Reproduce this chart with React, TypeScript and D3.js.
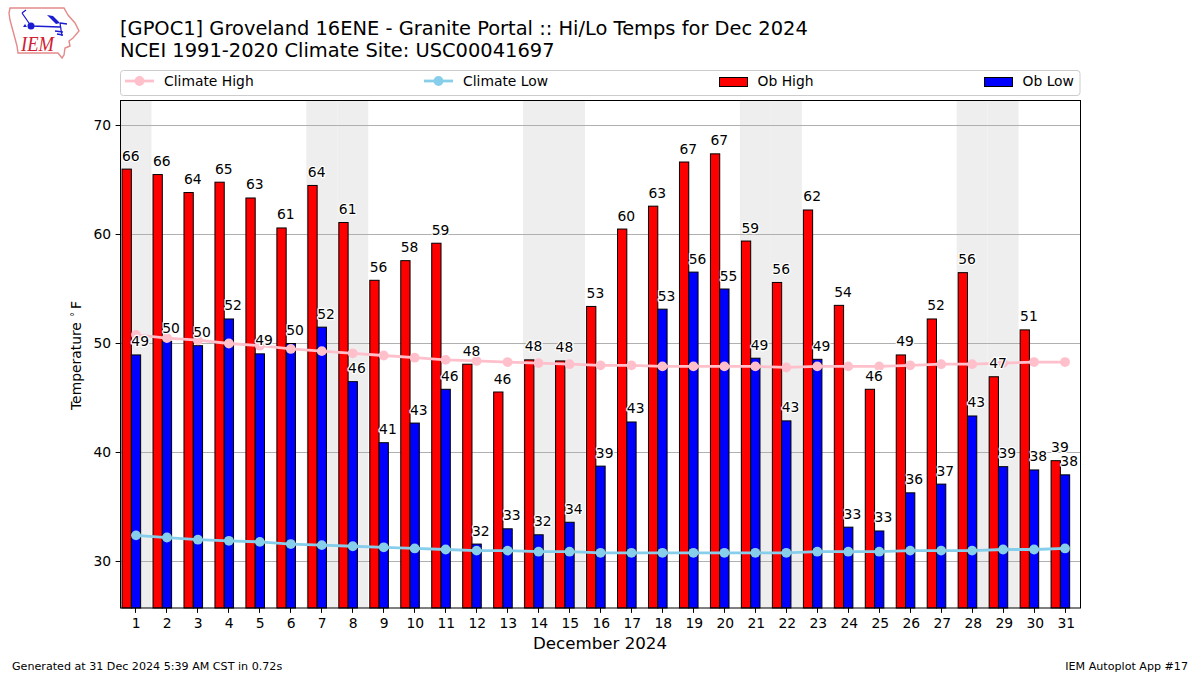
import React, { useRef, useEffect } from 'react';
import * as d3 from 'd3';

const days = d3.range(1, 32);
const weekends = [1, 7, 8, 14, 15, 21, 22, 28, 29];
const obHigh = [66.0, 65.5, 63.85, 64.8, 63.35, 60.6, 64.5, 61.1, 55.8, 57.6, 59.2, 48.1, 45.55, 48.5, 48.4, 53.4, 60.5, 62.6, 66.65, 67.4, 59.4, 55.6, 62.25, 53.5, 45.8, 48.95, 52.25, 56.5, 46.95, 51.25, 39.25];
const obLow = [48.95, 50.2, 49.8, 52.25, 49.05, 50.0, 51.5, 46.5, 40.9, 42.7, 45.8, 31.6, 33.0, 32.45, 33.6, 38.75, 42.8, 53.15, 56.55, 55.0, 48.65, 42.9, 48.55, 33.15, 32.8, 36.3, 37.1, 43.35, 38.7, 38.4, 37.95];
const highLabels = [66, 66, 64, 65, 63, 61, 64, 61, 56, 58, 59, 48, 46, 48, 48, 53, 60, 63, 67, 67, 59, 56, 62, 54, 46, 49, 52, 56, 47, 51, 39];
const lowLabels = [49, 50, 50, 52, 49, 50, 52, 46, 41, 43, 46, 32, 33, 32, 34, 39, 43, 53, 56, 55, 49, 43, 49, 33, 33, 36, 37, 43, 39, 38, 38];
const climateHigh = [50.8, 50.5, 50.3, 50.0, 49.8, 49.5, 49.3, 49.1, 48.9, 48.7, 48.5, 48.4, 48.3, 48.2, 48.1, 48.0, 48.0, 47.9, 47.9, 47.9, 47.9, 47.8, 47.9, 47.9, 47.9, 48.0, 48.1, 48.1, 48.2, 48.3, 48.3];
const climateLow = [32.4, 32.2, 32.0, 31.9, 31.8, 31.6, 31.5, 31.4, 31.3, 31.2, 31.1, 31.0, 31.0, 30.9, 30.9, 30.8, 30.8, 30.8, 30.8, 30.8, 30.8, 30.8, 30.9, 30.9, 30.9, 31.0, 31.0, 31.0, 31.1, 31.1, 31.2];
const yTicks = [30, 40, 50, 60, 70];

const FONT = '"DejaVu Sans", sans-serif';
const width = 1200;
const height = 675;
const margin = { top: 100.5, right: 119.5, bottom: 67, left: 120.5 };

function App() {
  const svgRef = useRef<SVGSVGElement>(null);

  useEffect(() => {
    const svg = d3.select(svgRef.current);
    svg.selectAll('*').remove();
    svg.attr('font-family', FONT);

    const x = d3.scaleLinear().domain([0.5, 31.5]).range([margin.left, width - margin.right]);
    const y = d3.scaleLinear().domain([25.734, 72.294]).range([height - margin.bottom, margin.top]);
    const barW = x(0.8) - x(0.5);

    // Logo
    const logo = svg.append('g');
    logo.append('path')
      .attr('d', 'M10,8 L64,8 L68,15 L75,23 L79,31 L73,38 L69,41 L70,46 L65,48 L64,55 L62,58 L58,53 L18,53 L17,46 L13,31 L10,20 L9,13 Z')
      .attr('fill', 'none').attr('stroke', '#e58a8a').attr('stroke-width', 1.4);
    logo.append('path')
      .attr('d', 'M31,26 L60,27 M60,23 L67,24 M60,23 L62,36 M22,13 L31,26 M22,13 L26,10 M55,31 L63,32 M57,34 L63,35')
      .attr('fill', 'none').attr('stroke', '#1c1cd0').attr('stroke-width', 1.3);
    logo.append('path').attr('d', 'M47,15 L53,16 L60,23 L56,24 Z').attr('fill', '#1c1cd0');
    logo.append('path').attr('d', 'M25,24 L27,27 L23,27 Z').attr('fill', '#1c1cd0');
    logo.append('circle').attr('cx', 31).attr('cy', 26).attr('r', 3.5).attr('fill', '#1c1cd0');
    logo.append('text').attr('x', 21).attr('y', 51).attr('font-family', '"Liberation Serif", serif')
      .attr('font-style', 'italic').attr('font-size', 20).attr('fill', '#d02030')
      .attr('textLength', 33).attr('lengthAdjust', 'spacingAndGlyphs').text('IEM');

    // Titles
    svg.append('text').attr('x', 120).attr('y', 35).attr('font-size', 19.44).attr('fill', '#000')
      .text('[GPOC1] Groveland 16ENE - Granite Portal :: Hi/Lo Temps for Dec 2024');
    svg.append('text').attr('x', 120).attr('y', 57).attr('font-size', 19.44).attr('fill', '#000')
      .text('NCEI 1991-2020 Climate Site: USC00041697');

    // Weekend shading
    svg.append('g').selectAll('rect').data(weekends).enter().append('rect')
      .attr('x', d => x(d - 0.5))
      .attr('width', x(1) - x(0))
      .attr('y', margin.top)
      .attr('height', height - margin.bottom - margin.top)
      .attr('fill', '#eeeeee');

    // Grid
    svg.append('g').selectAll('line').data(yTicks).enter().append('line')
      .attr('x1', margin.left).attr('x2', width - margin.right)
      .attr('y1', d => y(d)).attr('y2', d => y(d))
      .attr('stroke', '#b0b0b0').attr('stroke-width', 1.1);

    // Bars
    svg.append('g').selectAll('rect').data(days).enter().append('rect')
      .attr('x', d => x(d - 0.45))
      .attr('width', barW)
      .attr('y', (d, i) => y(obHigh[i]))
      .attr('height', (d, i) => y.range()[0] - y(obHigh[i]))
      .attr('fill', '#ff0000').attr('stroke', '#000').attr('stroke-width', 1);
    svg.append('g').selectAll('rect').data(days).enter().append('rect')
      .attr('x', d => x(d - 0.15))
      .attr('width', barW)
      .attr('y', (d, i) => y(obLow[i]))
      .attr('height', (d, i) => y.range()[0] - y(obLow[i]))
      .attr('fill', '#0000ff').attr('stroke', '#000').attr('stroke-width', 1);

    // Climate lines
    const drawClimate = (vals: number[], color: string) => {
      const line = d3.line<number>().x((d, i) => x(days[i])).y(d => y(d));
      svg.append('path').attr('d', line(vals)).attr('fill', 'none').attr('stroke', color).attr('stroke-width', 2.78);
      svg.append('g').selectAll('circle').data(vals).enter().append('circle')
        .attr('cx', (d, i) => x(days[i])).attr('cy', d => y(d)).attr('r', 4.9).attr('fill', color);
    };
    drawClimate(climateHigh, '#ffc0cb');
    drawClimate(climateLow, '#87ceeb');

    // Value labels, left aligned on the bar, with a white halo
    const drawLabels = (vals: number[], labels: number[], offset: number) => {
      svg.append('g').selectAll('text').data(labels).enter().append('text')
        .attr('x', (d, i) => x(days[i] + offset))
        .attr('y', (d, i) => Math.round(y(vals[i]) - 8.5))
        .attr('font-size', 13.89).attr('fill', '#000')
        .attr('stroke', '#fff').attr('stroke-width', 2.5).attr('paint-order', 'stroke')
        .attr('stroke-linejoin', 'round')
        .text(d => d);
    };
    drawLabels(obHigh, highLabels, -0.45);
    drawLabels(obLow, lowLabels, -0.15);

    // Frame
    svg.append('rect').attr('x', margin.left).attr('y', margin.top)
      .attr('width', width - margin.left - margin.right)
      .attr('height', height - margin.top - margin.bottom)
      .attr('fill', 'none').attr('stroke', '#000').attr('stroke-width', 1);

    // Axes
    const xAxis = svg.append('g').attr('transform', `translate(0,${height - margin.bottom})`)
      .call(d3.axisBottom(x).tickValues(days).tickFormat(d3.format('d')).tickSize(4.9).tickPadding(5).offset(0));
    xAxis.select('.domain').remove();
    xAxis.selectAll<SVGGElement, number>('.tick').attr('transform', d => `translate(${Math.floor(x(d)) + 0.5},0)`);
    xAxis.selectAll('text').attr('font-size', 13.89).attr('font-family', FONT).attr('fill', '#000').attr('dx', 0.7);
    const yAxis = svg.append('g').attr('transform', `translate(${margin.left},0)`)
      .call(d3.axisLeft(y).tickValues(yTicks).tickFormat(d3.format('d')).tickSize(4.9).tickPadding(4.5).offset(0));
    yAxis.select('.domain').remove();
    yAxis.selectAll('text').attr('font-size', 13.89).attr('font-family', FONT).attr('fill', '#000');

    svg.append('text').attr('x', 600).attr('y', 649).attr('text-anchor', 'middle')
      .attr('font-size', 16.67).attr('fill', '#000').text('December 2024');

    // Y label, degree sign set small and raised like mathtext
    const yLabel = svg.append('text').attr('transform', 'translate(81,410) rotate(-90)')
      .attr('font-size', 13.89).attr('fill', '#000').text('Temperature');
    yLabel.append('tspan').attr('dx', 5).attr('dy', -3).attr('font-size', 10).text('°');
    yLabel.append('tspan').attr('dx', 3).attr('dy', 3).text('F');

    // Legend
    svg.append('rect').attr('x', 120.5).attr('y', 70.5).attr('width', 959.5).attr('height', 25).attr('rx', 3)
      .attr('fill', '#fff').attr('stroke', '#cccccc').attr('stroke-width', 1);
    const legendLine = (lx: number, color: string, label: string) => {
      svg.append('line').attr('x1', lx).attr('x2', lx + 29).attr('y1', 81).attr('y2', 81)
        .attr('stroke', color).attr('stroke-width', 2.78);
      svg.append('circle').attr('cx', lx + 14.5).attr('cy', 81).attr('r', 4.9).attr('fill', color);
      svg.append('text').attr('x', lx + 39).attr('y', 86).attr('font-size', 13.89).attr('fill', '#000').text(label);
    };
    const legendBar = (lx: number, color: string, label: string) => {
      svg.append('rect').attr('x', lx).attr('y', 77.5).attr('width', 28).attr('height', 9)
        .attr('fill', color).attr('stroke', '#000').attr('stroke-width', 1);
      svg.append('text').attr('x', lx + 38).attr('y', 86).attr('font-size', 13.89).attr('fill', '#000').text(label);
    };
    legendLine(125, '#ffc0cb', 'Climate High');
    legendLine(424, '#87ceeb', 'Climate Low');
    legendBar(719.5, '#ff0000', 'Ob High');
    legendBar(984.5, '#0000ff', 'Ob Low');

    // Footer
    svg.append('text').attr('x', 12).attr('y', 670).attr('font-size', 11.11).attr('fill', '#000')
      .text('Generated at 31 Dec 2024 5:39 AM CST in 0.72s');
    svg.append('text').attr('x', 1188).attr('y', 670).attr('text-anchor', 'end').attr('font-size', 11.11).attr('fill', '#000')
      .text('IEM Autoplot App #17');
  }, []);

  return (
    <svg
      ref={svgRef}
      width={width}
      height={height}
      viewBox={`0 0 ${width} ${height}`}
      style={{ position: 'absolute', left: 0, top: 0, display: 'block', background: '#fff' }}
    />
  );
}

export default App;
